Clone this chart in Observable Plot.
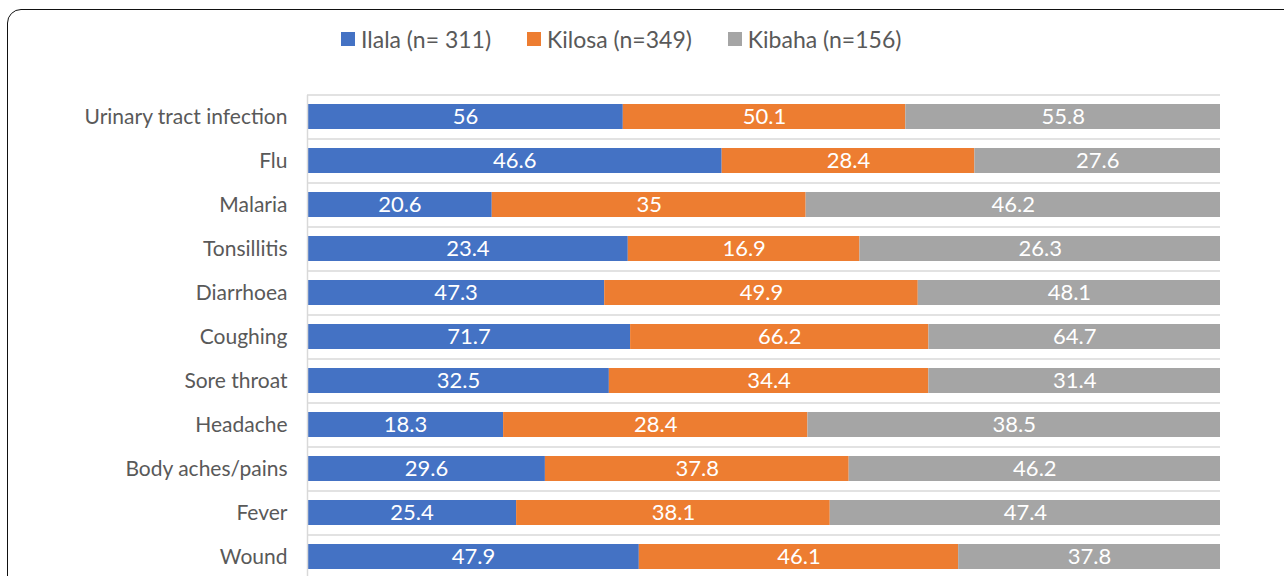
<!DOCTYPE html>
<html><head><meta charset="utf-8">
<script src="https://cdn.jsdelivr.net/npm/d3@7"></script>
<script src="https://cdn.jsdelivr.net/npm/@observablehq/plot@0.6"></script>
<style>
html,body{margin:0;padding:0;width:1284px;height:576px;overflow:hidden;background:#fff;font-family:Lato,"Open Sans",sans-serif}
#card{position:absolute;left:7px;top:9px;width:1400px;height:700px;border:1.5px solid #111;border-radius:14px;box-sizing:border-box}
#legend{position:absolute;left:341px;top:25px;display:flex;align-items:center;font-size:23px;color:#595959;white-space:nowrap}
#legend .item{display:flex;align-items:center;margin-right:36px}
#legend .sw{width:14px;height:14px;margin-right:6px}
#chart{position:absolute;left:0;top:0}
</style></head>
<body>
<div id="card"></div>
<div id="legend"></div>
<div id="chart"></div>
<script>
const categories = ["Urinary tract infection","Flu","Malaria","Tonsillitis","Diarrhoea","Coughing","Sore throat","Headache","Body aches/pains","Fever","Wound"];
const series = ["Ilala (n= 311)","Kilosa (n=349)","Kibaha (n=156)"];
const ilala  = [56, 46.6, 20.6, 23.4, 47.3, 71.7, 32.5, 18.3, 29.6, 25.4, 47.9];
const kilosa = [50.1, 28.4, 35, 16.9, 49.9, 66.2, 34.4, 28.4, 37.8, 38.1, 46.1];
const kibaha = [55.8, 27.6, 46.2, 26.3, 48.1, 64.7, 31.4, 38.5, 46.2, 47.4, 37.8];
const colors = ["#4472C4","#ED7D31","#A5A5A5"];

const values = [ilala, kilosa, kibaha];
const data = [];
categories.forEach((c, i) => {
  series.forEach((s, j) => data.push({cat: c, series: s, value: values[j][i]}));
});

// legend
const lg = document.getElementById("legend");
series.forEach((s, j) => {
  const it = document.createElement("div"); it.className = "item";
  const sw = document.createElement("div"); sw.className = "sw"; sw.style.background = colors[j];
  const tx = document.createElement("span"); tx.textContent = s;
  it.appendChild(sw); it.appendChild(tx); lg.appendChild(it);
});

const chart = Plot.plot({
  width: 1284,
  height: 600,
  marginTop: 95,
  marginBottom: 21,
  marginLeft: 307,
  marginRight: 64,
  style: {fontFamily: "Lato, 'Open Sans', sans-serif", background: "transparent"},
  x: {axis: null, domain: [0, 1]},
  y: {domain: categories, paddingInner: 0.43, paddingOuter: 0.215, label: null},
  color: {domain: series, range: colors},
  marks: [
    Plot.ruleY(categories, {y: d => d, dy: -22, stroke: "#d9d9d9", strokeWidth: 1.5}),
    Plot.barX(data, Plot.stackX({x: "value", y: "cat", z: "series", fill: "series", offset: "normalize"})),
    Plot.text(data, Plot.stackX({x: "value", y: "cat", z: "series", offset: "normalize",
      text: d => String(d.value), fill: "white", fontSize: 22})),
    Plot.ruleX([0], {stroke: "#d9d9d9", strokeWidth: 1.5}),
    Plot.axisY({tickSize: 0, tickPadding: 20, fontSize: 21, color: "#595959", label: null})
  ]
});
document.getElementById("chart").appendChild(chart);
</script>
</body></html>
